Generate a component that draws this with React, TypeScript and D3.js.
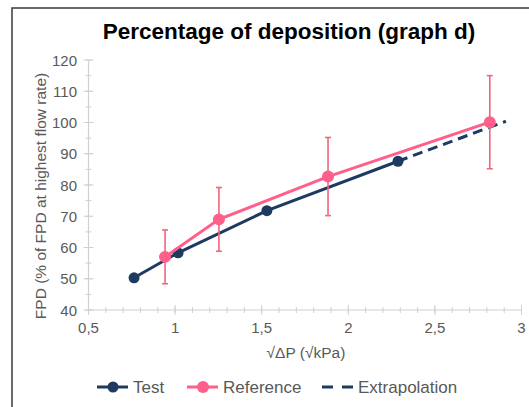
import { useEffect, useRef } from 'react';
import * as d3 from 'd3';

// values
const testX = [0.763, 1.017, 1.53, 2.287];
const testY = [50.3, 58.3, 71.8, 87.6];
const refX = [0.942, 1.253, 1.883, 2.817];
const refY = [57, 69, 82.7, 100.1];
const refErr = [8.6, 10.2, 12.5, 14.9];
const extraX = [2.287, 2.91];
const extraY = [87.6, 100.4];
const xTicks = [0.5, 1, 1.5, 2, 2.5, 3];
const yTicks = [40, 50, 60, 70, 80, 90, 100, 110, 120];

const NAVY = '#1f3a60';
const PINK = '#ff5f8a';
const ERR = '#f0667c';
const FONT = 'Liberation Sans, Arial, sans-serif';

export default function App() {
  const svgRef = useRef<SVGSVGElement>(null);

  useEffect(() => {
    if (!svgRef.current) return;
    const svg = d3.select(svgRef.current);
    svg.selectAll('*').remove();

    const x = d3.scaleLinear().domain([0.5, 3]).range([88.5, 521.5]);
    const y = d3.scaleLinear().domain([40, 120]).range([310, 60]);

    svg.append('rect')
      .attr('width', 529).attr('height', 407).attr('fill', '#fff');
    // outer frame (only top/left visible)
    svg.append('rect')
      .attr('x', 12).attr('y', 8).attr('width', 700).attr('height', 700)
      .attr('fill', 'none').attr('stroke', '#3a3a3a').attr('stroke-width', 1.5);

    svg.append('text')
      .attr('x', 289).attr('y', 39)
      .attr('text-anchor', 'middle')
      .attr('font-family', FONT).attr('font-weight', 'bold').attr('font-size', 22.5)
      .attr('fill', '#000')
      .text('Percentage of deposition (graph d)');

    const axisCol = '#d0d0d0';
    const g = svg.append('g');

    // axes lines
    g.append('line')
      .attr('x1', x(0.5)).attr('x2', x(3)).attr('y1', y(40)).attr('y2', y(40))
      .attr('stroke', axisCol).attr('stroke-width', 1.2);
    g.append('line')
      .attr('x1', x(0.5)).attr('x2', x(0.5)).attr('y1', y(40)).attr('y2', y(120))
      .attr('stroke', axisCol).attr('stroke-width', 1.2);

    // x minor ticks every 0.1
    const xMinor = d3.range(0.5, 3.0001, 0.1);
    g.selectAll('.xt').data(xMinor).enter().append('line')
      .attr('x1', d => x(d)).attr('x2', d => x(d))
      .attr('y1', y(40) - 3).attr('y2', y(40) + 3)
      .attr('stroke', axisCol).attr('stroke-width', 1);
    g.selectAll('.xT').data(xTicks).enter().append('line')
      .attr('x1', d => x(d)).attr('x2', d => x(d))
      .attr('y1', y(40) - 5).attr('y2', y(40) + 5)
      .attr('stroke', axisCol).attr('stroke-width', 1);

    const yMinor = d3.range(40, 120.001, 5);
    g.selectAll('.yt').data(yMinor).enter().append('line')
      .attr('x1', x(0.5) - 3).attr('x2', x(0.5) + 3)
      .attr('y1', d => y(d)).attr('y2', d => y(d))
      .attr('stroke', axisCol).attr('stroke-width', 1);
    g.selectAll('.yT').data(yTicks).enter().append('line')
      .attr('x1', x(0.5) - 5).attr('x2', x(0.5) + 5)
      .attr('y1', d => y(d)).attr('y2', d => y(d))
      .attr('stroke', axisCol).attr('stroke-width', 1);

    const fmt = (d: number) => String(d).replace('.', ',');
    g.selectAll('.xl').data(xTicks).enter().append('text')
      .attr('x', d => x(d)).attr('y', 333)
      .attr('text-anchor', 'middle')
      .attr('font-family', FONT).attr('font-size', 15).attr('fill', '#595959')
      .text(d => fmt(d));
    g.selectAll('.yl').data(yTicks).enter().append('text')
      .attr('x', 77).attr('y', d => y(d) + 5.5)
      .attr('text-anchor', 'end')
      .attr('font-family', FONT).attr('font-size', 15).attr('fill', '#595959')
      .text(d => d);

    svg.append('text')
      .attr('x', 306).attr('y', 358)
      .attr('text-anchor', 'middle')
      .attr('font-family', FONT).attr('font-size', 15.5).attr('fill', '#595959')
      .text('√ΔP (√kPa)');
    svg.append('text')
      .attr('transform', 'translate(45.5,196) rotate(-90)')
      .attr('text-anchor', 'middle')
      .attr('font-family', FONT).attr('font-size', 15.5).attr('fill', '#595959')
      .text('FPD (% of FPD at highest flow rate)');

    const line = d3.line<[number, number]>().x(d => x(d[0])).y(d => y(d[1]));
    const testPts = testX.map((v, i) => [v, testY[i]] as [number, number]);
    const refPts = refX.map((v, i) => [v, refY[i]] as [number, number]);
    const extraPts = extraX.map((v, i) => [v, extraY[i]] as [number, number]);

    g.append('path').attr('d', line(extraPts)!)
      .attr('fill', 'none').attr('stroke', NAVY).attr('stroke-width', 3)
      .attr('stroke-dasharray', '10,6');
    g.append('path').attr('d', line(testPts)!)
      .attr('fill', 'none').attr('stroke', NAVY).attr('stroke-width', 3);
    g.selectAll('.tp').data(testPts).enter().append('circle')
      .attr('cx', d => x(d[0])).attr('cy', d => y(d[1])).attr('r', 5.5)
      .attr('fill', NAVY);

    g.append('path').attr('d', line(refPts)!)
      .attr('fill', 'none').attr('stroke', PINK).attr('stroke-width', 3);

    // error bars
    refPts.forEach((p, i) => {
      const cx = x(p[0]);
      const top = y(p[1] + refErr[i]);
      const bot = y(p[1] - refErr[i]);
      g.append('line').attr('x1', cx).attr('x2', cx).attr('y1', top).attr('y2', bot)
        .attr('stroke', ERR).attr('stroke-width', 1.6);
      [top, bot].forEach(yy => {
        g.append('line').attr('x1', cx - 3).attr('x2', cx + 3).attr('y1', yy).attr('y2', yy)
          .attr('stroke', ERR).attr('stroke-width', 1.6);
      });
    });
    g.selectAll('.rp').data(refPts).enter().append('circle')
      .attr('cx', d => x(d[0])).attr('cy', d => y(d[1])).attr('r', 6)
      .attr('fill', PINK);

    // legend
    const ly = 387;
    const leg = svg.append('g');
    leg.append('line').attr('x1', 97).attr('x2', 128).attr('y1', ly).attr('y2', ly)
      .attr('stroke', NAVY).attr('stroke-width', 3);
    leg.append('circle').attr('cx', 113).attr('cy', ly).attr('r', 5.5).attr('fill', NAVY);
    leg.append('line').attr('x1', 187).attr('x2', 218).attr('y1', ly).attr('y2', ly)
      .attr('stroke', PINK).attr('stroke-width', 3);
    leg.append('circle').attr('cx', 203).attr('cy', ly).attr('r', 6).attr('fill', PINK);
    leg.append('line').attr('x1', 322).attr('x2', 353).attr('y1', ly).attr('y2', ly)
      .attr('stroke', NAVY).attr('stroke-width', 3).attr('stroke-dasharray', '11,9');
    const lt = [
      { x: 133, t: 'Test' },
      { x: 223, t: 'Reference' },
      { x: 358, t: 'Extrapolation' },
    ];
    leg.selectAll('text').data(lt).enter().append('text')
      .attr('x', d => d.x).attr('y', ly + 6)
      .attr('font-family', FONT).attr('font-size', 17).attr('fill', '#595959')
      .text(d => d.t);
  }, []);

  return (
    <svg
      ref={svgRef}
      width={529}
      height={407}
      style={{ position: 'absolute', left: 0, top: 0 }}
    />
  );
}
